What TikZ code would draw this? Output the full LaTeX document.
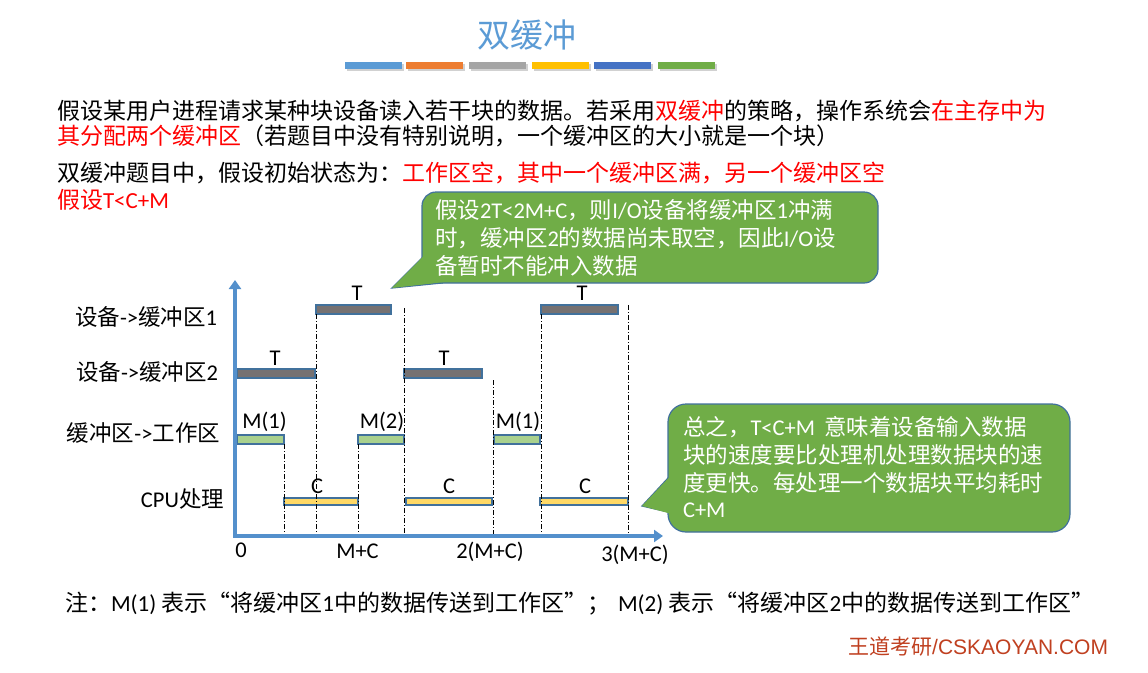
\documentclass[tikz,border=0pt]{standalone}
\usepackage{fontspec}
\setmainfont{Noto Sans CJK SC}
\newfontfamily\lat{Carlito}
\newfontfamily\ari{Liberation Sans}
\usetikzlibrary{arrows.meta,calc}
\definecolor{tblue}{RGB}{91,155,213}
\definecolor{torange}{RGB}{237,125,49}
\definecolor{tgray}{RGB}{165,165,165}
\definecolor{tyellow}{RGB}{255,192,0}
\definecolor{tblue2}{RGB}{68,114,196}
\definecolor{tgreen}{RGB}{112,173,71}
\definecolor{axisblue}{RGB}{84,144,204}
\definecolor{edgeblue}{RGB}{65,113,156}
\definecolor{bargray}{RGB}{118,113,113}
\definecolor{bargreen}{RGB}{169,209,142}
\definecolor{baryellow}{RGB}{255,217,102}
\definecolor{wmred}{RGB}{192,64,32}
\newcommand\lt[1]{{\lat #1}}
\newcommand\rd[1]{\textcolor{red}{#1}}
\begin{document}
\begin{tikzpicture}[x=1pt,y=-1pt,
  every node/.style={inner sep=0pt,outer sep=0pt},
  maintxt/.style={font=\fontsize{23}{27}\selectfont,anchor=base west},
  rowlbl/.style={font=\fontsize{22.5}{26}\selectfont,anchor=base east},
  lbl/.style={font=\fontsize{22.5}{26}\selectfont\lat,anchor=base},
  calltxt/.style={font=\fontsize{22.5}{27}\selectfont,text=white,anchor=base west},
  callout/.style={fill=tgreen,draw=edgeblue,line width=1.2pt},
  bar/.style={draw=edgeblue,line width=1.2pt,minimum height=9pt},
  gbar/.style={bar,fill=bargray},
  grbar/.style={bar,fill=bargreen},
  ybar/.style={bar,fill=baryellow,minimum height=7pt},
  dd/.style={black,line width=0.8pt,dash pattern=on 5pt off 2pt on 1pt off 2pt},
  axisline/.style={axisblue,line width=3.6pt,-{Triangle[width=12pt,length=9pt]}},
  topbar/.style={minimum height=7pt,minimum width=57pt}
]
\useasboundingbox (0,0) rectangle (1148,672);
\fill[white] (0,0) rectangle (1148,672);

% title
\node[font=\fontsize{33}{38}\selectfont,text=tblue,anchor=base] (title) at (527,47.5) {双缓冲};
% colour bars
\foreach \c/\x [count=\i] in {tblue/373.5,torange/434.5,tgray/497.5,tyellow/560.5,tblue2/622.5,tgreen/686.5}{
  \fill[black!18] (\x-28.5+1.5,62+2) rectangle (\x+28.5+1.5,69+2);
  \node[topbar,fill=\c] (cb\i) at (\x,65.5) {};
}

% main text
\node[maintxt] (t1) at (57,119.5) {假设某用户进程请求某种块设备读入若干块的数据。若采用\rd{双缓冲}的策略，操作系统会\rd{在主存中为}};
\node[maintxt] (t2) at (57,144.5) {\rd{其分配两个缓冲区}（若题目中没有特别说明，一个缓冲区的大小就是一个块）};
\node[maintxt] (t3) at (57,181.5) {双缓冲题目中，假设初始状态为：\rd{工作区空，其中一个缓冲区满，另一个缓冲区空}};
\node[maintxt] (t4) at (57,208.5) {\rd{假设\lt{T<C+M}}};

% callout 1
\coordinate (c1tip) at (392,288);
\filldraw[callout] (c1tip) -- (422,258) -- (442,283) -- cycle;
\filldraw[callout,rounded corners=14pt] (422,192) rectangle (878,283);
\fill[tgreen] (c1tip) -- (423.2,256.5) -- (444,282) -- cycle;
\node[calltxt] (c1a) at (435,218.5) {假设\lt{2T<2M+C}，则\lt{I/O}设备将缓冲区\lt{1}冲满};
\node[calltxt] (c1b) at (435,246.5) {时，缓冲区\lt{2}的数据尚未取空，因此\lt{I/O}设};
\node[calltxt] (c1c) at (435,274.5) {备暂时不能冲入数据};

% callout 2
\coordinate (c2tip) at (642,506);
\filldraw[callout] (c2tip) -- (668,478) -- (668,512) -- cycle;
\filldraw[callout,rounded corners=18pt] (668,404) rectangle (1070,532);
\fill[tgreen] (c2tip) -- (670,476.5) -- (670,513.5) -- cycle;
\node[calltxt] (c2a) at (683,435.5) {总之，\lt{T<C+M}\hspace{9pt}意味着设备输入数据};
\node[calltxt] (c2b) at (683,463.5) {块的速度要比处理机处理数据块的速};
\node[calltxt] (c2c) at (683,491) {度更快。每处理一个数据块平均耗时};
\node[calltxt] (c2d) at (683,517.5) {\lt{C+M}};

% axes
\coordinate (O) at (235,536);
\coordinate (Ytop) at (235,280);
\coordinate (Xend) at (663,536);

% row labels
\node[rowlbl] (r1) at (217,325) {设备\lt{->}缓冲区\lt{1}};
\node[rowlbl] (r2) at (218,380.5) {设备\lt{->}缓冲区\lt{2}};
\node[rowlbl] (r3) at (220,441.5) {缓冲区\lt{->}工作区};
\node[rowlbl] (r4) at (224,507.5) {\lt{CPU}处理};

% bars
\node[gbar,minimum width=75pt] (b11) at (353.5,309.5) {};
\node[gbar,minimum width=77pt] (b12) at (579.5,309.5) {};
\node[gbar,minimum width=78pt] (b21) at (276,373.5) {};
\node[gbar,minimum width=78pt] (b22) at (443,373.5) {};
\node[grbar,minimum width=47pt] (b31) at (260.5,439.5) {};
\node[grbar,minimum width=46pt] (b32) at (381,439.5) {};
\node[grbar,minimum width=46pt] (b33) at (517,439.5) {};
\node[ybar,minimum width=74pt] (b41) at (321,501.5) {};
\node[ybar,minimum width=86pt] (b42) at (449,501.5) {};
\node[ybar,minimum width=88pt] (b43) at (584,501.5) {};

% bar labels
\node[lbl] (l11) at (357,300) {T};
\node[lbl] (l12) at (582,300) {T};
\node[lbl] (l21) at (275,365) {T};
\node[lbl] (l22) at (444,365) {T};
\node[lbl] (l31) at (264.5,428) {M(1)};
\node[lbl] (l32) at (382,428) {M(2)};
\node[lbl] (l33) at (518,428) {M(1)};
\node[lbl] (l41) at (317,493) {C};
\node[lbl] (l42) at (449,493) {C};
\node[lbl] (l43) at (585,493) {C};

% dash-dot guide lines
\coordinate (g4) at (404,308);
\coordinate (g5) at (493,380);
\coordinate (g7) at (628,305);
\draw[dd] (b31.south east) -- (b31.south east |- O);
\draw[dd] (b11.south west) -- (b11.south west |- O);
\draw[dd] (b32.south west) -- (b32.south west |- O);
\draw[dd] (g4) -- (g4 |- O);
\draw[dd] (g5) -- (g5 |- O);
\draw[dd] (b12.south west) -- (b12.south west |- O);
\draw[dd] (g7) -- (g7 |- O);

\draw[axisline] (O) -- (Ytop);
\draw[axisline] ([xshift=-1.8pt]O) -- (Xend);

% axis labels
\node[lbl] (x0) at (241,557) {0};
\node[lbl] (x1) at (357.5,558) {M+C};
\node[lbl] (x2) at (490,558) {2(M+C)};
\node[lbl] (x3) at (635,561) {3(M+C)};

% note
\node[maintxt,font=\fontsize{23}{27}\selectfont] (note) at (65,611) {注：\lt{M(1)} 表示“将缓冲区\lt{1}中的数据传送到工作区”；\hspace{8pt}\lt{M(2)} 表示“将缓冲区\lt{2}中的数据传送到工作区”};

% watermark
\node[anchor=base east,font=\fontsize{21}{24}\selectfont,text=wmred] (wm) at (1108,654) {王道考研{\ari /CSKAOYAN.COM}};
\end{tikzpicture}
\end{document}
